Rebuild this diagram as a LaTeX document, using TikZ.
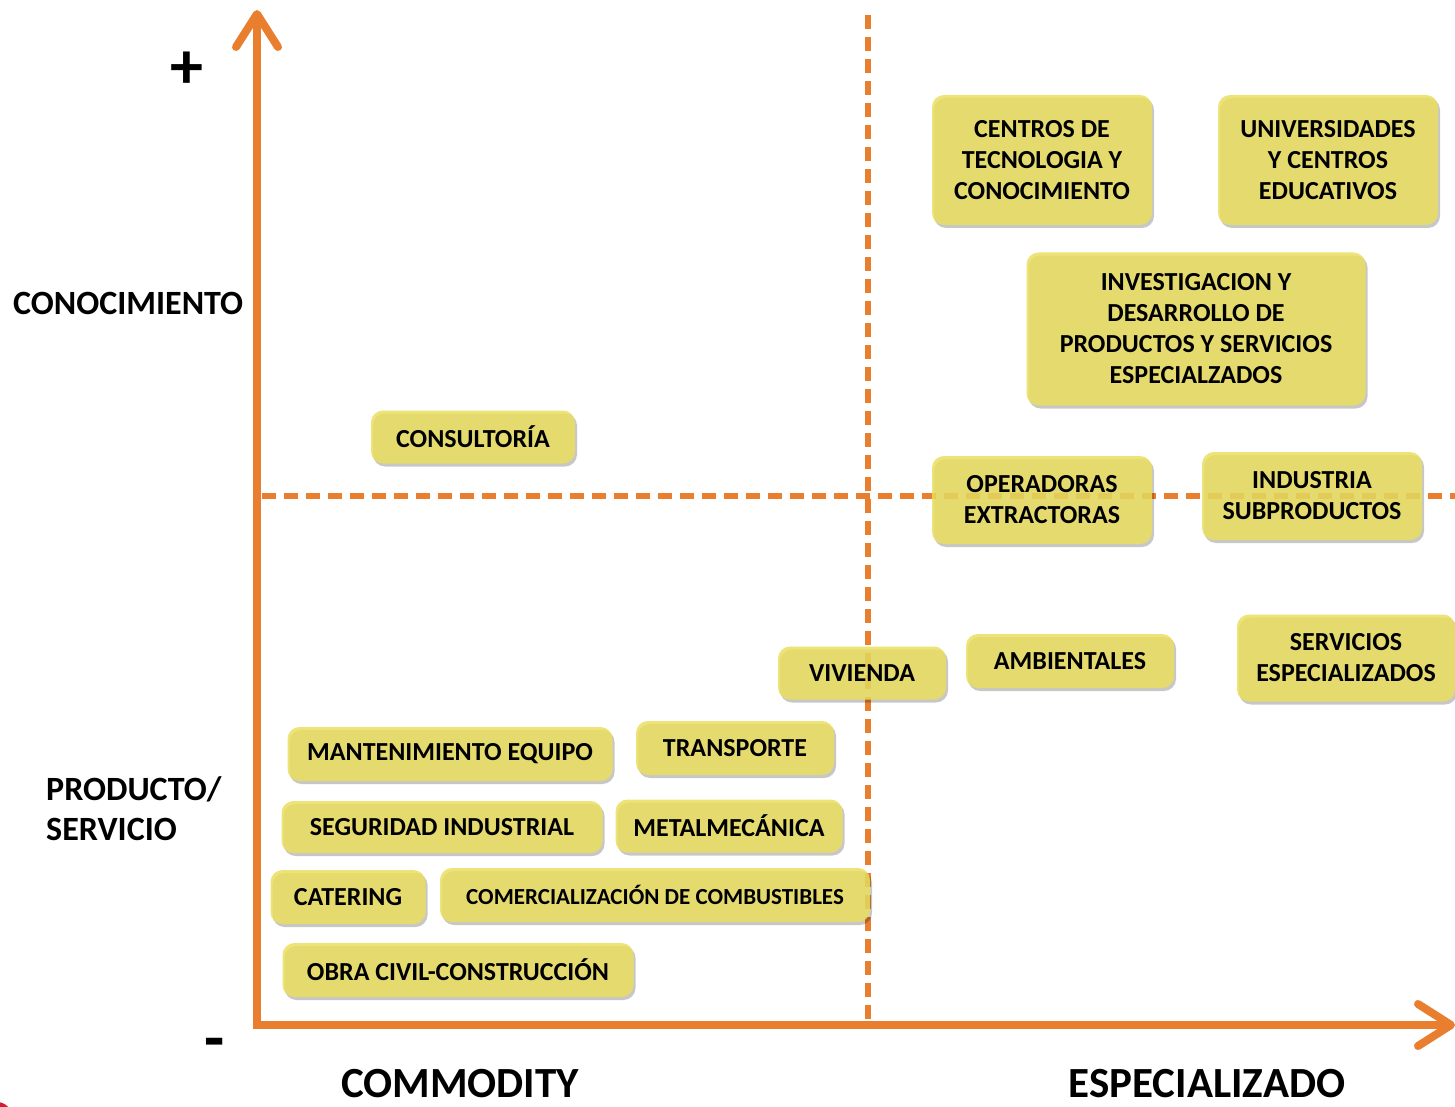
\documentclass[tikz,border=0pt]{standalone}
\usepackage{fontspec}
\setmainfont{Carlito}
\usetikzlibrary{shadows}
\definecolor{axisor}{RGB}{232,126,46}
\definecolor{boxy}{RGB}{234,222,96}
\definecolor{dotred}{RGB}{214,28,48}
\tikzset{
  tag/.style={rounded corners=12pt, fill=boxy, fill opacity=0.86, text opacity=1,
    inner sep=0pt, align=center, text=black,
    font=\bfseries\fontsize{26}{31}\selectfont,
    drop shadow={shadow xshift=2pt, shadow yshift=-3pt, opacity=0.22, fill=black}},
  axisline/.style={draw=axisor, line width=8pt},
  tipline/.style={draw=axisor, line width=8pt, line cap=round, line join=round},
  dashline/.style={draw=axisor, line width=5.5pt, dash pattern=on 14pt off 8pt},
  lab/.style={inner sep=0pt, text=black, font=\bfseries\fontsize{34}{40}\selectfont},
  biglab/.style={inner sep=0pt, text=black, font=\bfseries\fontsize{43}{50}\selectfont},
  sign/.style={inner sep=0pt, text=black, font=\bfseries\fontsize{66}{70}\selectfont}
}
\begin{document}
\begin{tikzpicture}[x=1pt, y=-1pt]
\useasboundingbox (0,0) rectangle (1455,1107);
\begin{scope}
\clip (0,0) rectangle (1455,1107);
\fill[dotred] (-3,1117) circle (15);
\end{scope}
% axes
\coordinate (O) at (257,1025);
\coordinate (ytip) at (257,14);
\coordinate (xtip) at (1451,1025);
\coordinate (vtop) at (868,15);
\coordinate (vbot) at (868,1025);
\coordinate (hl) at (262,496);
\coordinate (hr) at (1455,496);
\draw[dashline] (vtop) -- (vbot);
\draw[dashline] (hl) -- (hr);
\draw[axisline, line join=miter] (ytip) -- (O) -- (xtip);
\draw[tipline] (236,47) -- (ytip) -- (278,47);
\draw[tipline] (1418,1004) -- (xtip) -- (1418,1046);
% labels
\node[sign] (plus) at (187,70) {+};
\node[sign] (minus) at (215,1049) {-};
\node[lab, anchor=west] (conoc) at (13,303) {CONOCIMIENTO};
\node[lab, anchor=west, align=left] (prod) at (46,809) {PRODUCTO/\\SERVICIO};
\node[biglab] (commod) at (460,1084) {COMMODITY};
\node[biglab] (espec) at (1207,1084) {ESPECIALIZADO};
% boxes
\node[tag, minimum width=220, minimum height=130] (ctc) at (1042,160) {CENTROS DE\\TECNOLOGIA Y\\CONOCIMIENTO};
\node[tag, minimum width=220, minimum height=130] (univ) at (1328,160) {UNIVERSIDADES\\Y CENTROS\\EDUCATIVOS};
\node[tag, minimum width=339, minimum height=153] (inv) at (1196,329) {INVESTIGACION Y\\DESARROLLO DE\\PRODUCTOS Y SERVICIOS\\ESPECIALZADOS};
\node[tag, minimum width=204, minimum height=53] (cons) at (473,437) {CONSULTORÍA};
\node[tag, minimum width=220, minimum height=88] (oper) at (1042,500) {OPERADORAS\\EXTRACTORAS};
\node[tag, minimum width=220, minimum height=88] (indus) at (1312,496) {INDUSTRIA\\SUBPRODUCTOS};
\node[tag, minimum width=168, minimum height=53] (viv) at (862,673) {VIVIENDA};
\node[tag, minimum width=208, minimum height=54] (amb) at (1070,661) {AMBIENTALES};
\node[tag, minimum width=218, minimum height=87] (serv) at (1346,658) {SERVICIOS\\ESPECIALIZADOS};
\node[tag, minimum width=325, minimum height=54] (mant) at (450,754) {MANTENIMIENTO EQUIPO};
\node[tag, minimum width=198, minimum height=54] (trans) at (735,748) {TRANSPORTE};
\node[tag, minimum width=321, minimum height=52] (seg) at (442,827) {SEGURIDAD INDUSTRIAL};
\node[tag, minimum width=227, minimum height=53] (metal) at (729,826) {METALMECÁNICA};
\node[tag, minimum width=155, minimum height=54] (cat) at (348,897) {CATERING};
\node[tag, minimum width=430, minimum height=54, font=\bfseries\fontsize{23}{28}\selectfont] (comb) at (655,895) {COMERCIALIZACIÓN DE COMBUSTIBLES};
\node[tag, minimum width=351, minimum height=54] (obra) at (458,970) {OBRA CIVIL-CONSTRUCCIÓN};
\end{tikzpicture}
\end{document}
